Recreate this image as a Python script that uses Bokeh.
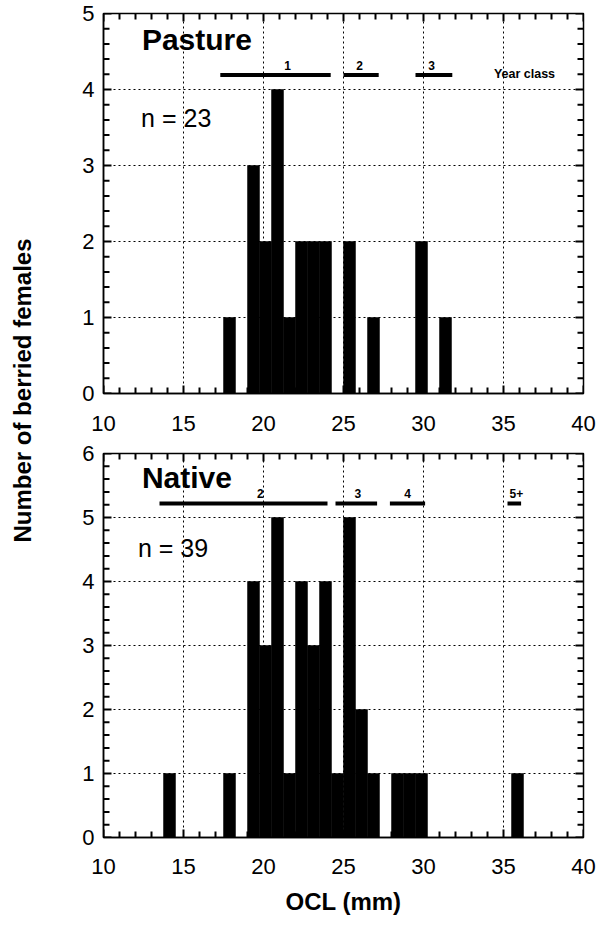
import numpy as np
from bokeh.plotting import figure
from bokeh.models import Range1d, FixedTicker
from bokeh.layouts import row, column
from bokeh.core.properties import value
from bokeh.embed import file_html
from bokeh.resources import INLINE

FONT = "Liberation Sans"
BIN_WIDTH = 0.75  # mm

# Pasture: lower edge of each occupied OCL bin (mm) and number of berried females
pasture_bin_start = [17.5, 19.0, 19.75, 20.5, 21.25, 22.0, 22.75, 23.5, 25.0, 26.5, 29.5, 31.0]
pasture_counts = [1, 3, 2, 4, 1, 2, 2, 2, 2, 1, 2, 1]

# Native: lower edge of each occupied OCL bin (mm) and number of berried females
native_bin_start = [13.75, 17.5, 19.0, 19.75, 20.5, 21.25, 22.0, 22.75, 23.5, 24.25,
                    25.0, 25.75, 26.5, 28.0, 28.75, 29.5, 35.5]
native_counts = [1, 1, 4, 3, 5, 1, 4, 3, 4, 1, 5, 2, 1, 1, 1, 1, 1]

# Year-class size ranges (mm)
pasture_year_class = ["1", "2", "3"]
pasture_class_from = [17.3, 25.0, 29.5]
pasture_class_to = [24.2, 27.2, 31.8]
pasture_class_label_x = [21.5, 26.0, 30.5]

native_year_class = ["2", "3", "4", "5+"]
native_class_from = [13.5, 24.5, 27.9, 35.25]
native_class_to = [24.0, 27.1, 30.1, 36.1]
native_class_label_x = [19.8, 25.9, 29.0, 35.8]

x_ticks = [10, 15, 20, 25, 30, 35, 40]
x_minor = list(range(10, 41))

FIG_W, BORDER_L, BORDER_R = 560, 58, 22


def style_axis(axis):
    axis.axis_line_width = 1.5
    axis.axis_line_color = "black"
    axis.major_tick_in = 0
    axis.major_tick_out = 0
    axis.minor_tick_in = 0
    axis.minor_tick_out = 0
    axis.major_label_text_font = FONT
    axis.major_label_text_font_size = "22px"
    axis.major_label_text_color = "black"


def make_panel(bin_start, counts, ymax, height, border_top, border_bottom, x_standoff,
               name, n_text, name_y, n_y, n_x,
               classes, c_from, c_to, c_label_x, class_y, show_xlabel):
    p = figure(width=FIG_W, height=height, output_backend="svg", toolbar_location=None,
               x_range=Range1d(10, 40), y_range=Range1d(0, ymax),
               min_border_left=BORDER_L, min_border_right=BORDER_R,
               min_border_top=border_top, min_border_bottom=border_bottom)
    p.outline_line_color = "black"
    p.outline_line_width = 1.5
    p.background_fill_color = "white"
    p.border_fill_color = "white"

    y_ticks = list(range(0, ymax + 1))
    y_minor = [round(v, 1) for v in np.arange(0, ymax + 0.01, 0.2)]
    xt = FixedTicker(ticks=x_ticks, minor_ticks=x_minor)
    yt = FixedTicker(ticks=y_ticks, minor_ticks=y_minor)
    p.xaxis.ticker = xt
    p.yaxis.ticker = yt
    p.xgrid.ticker = xt
    p.ygrid.ticker = yt
    for g in (p.xgrid, p.ygrid):
        g.grid_line_color = "black"
        g.grid_line_dash = "2 3"
        g.grid_line_width = 1

    style_axis(p.below[0])
    style_axis(p.left[0])
    p.below[0].major_label_standoff = x_standoff
    p.left[0].major_label_standoff = 9

    if show_xlabel:
        ax = p.below[0]
        ax.axis_label = "OCL (mm)"
        ax.axis_label_text_font = FONT
        ax.axis_label_text_font_style = "bold"
        ax.axis_label_text_font_size = "24px"
        ax.axis_label_text_color = "black"
        ax.axis_label_standoff = 11

    centers = [s + BIN_WIDTH / 2 for s in bin_start]
    p.vbar(x=centers, top=counts, bottom=0, width=BIN_WIDTH,
           fill_color="black", line_color="black", line_width=0.5)

    # inward tick marks on all four edges (tick lengths given in pixels)
    dx = 30 / (FIG_W - BORDER_L - BORDER_R)            # data units per pixel along x
    dy = ymax / (height - border_top - border_bottom)  # data units per pixel along y
    x_min_only = [v for v in x_minor if v not in x_ticks]
    y_min_only = [v for v in y_minor if v not in y_ticks]
    for xs, n_px in ((x_min_only, 6), (x_ticks, 8)):
        k = len(xs)
        p.segment(x0=xs, x1=xs, y0=[0] * k, y1=[n_px * dy] * k,
                  line_color="black", line_width=2)
        p.segment(x0=xs, x1=xs, y0=[ymax] * k, y1=[ymax - n_px * dy] * k,
                  line_color="black", line_width=2)
    for ys, n_px in ((y_min_only, 6), (y_ticks, 8)):
        k = len(ys)
        p.segment(x0=[10] * k, x1=[10 + n_px * dx] * k, y0=ys, y1=ys,
                  line_color="black", line_width=2)
        p.segment(x0=[40] * k, x1=[40 - n_px * dx] * k, y0=ys, y1=ys,
                  line_color="black", line_width=2)

    # year-class size ranges
    p.segment(x0=c_from, y0=[class_y] * len(classes), x1=c_to, y1=[class_y] * len(classes),
              line_color="black", line_width=4)
    p.text(x=c_label_x, y=[class_y] * len(classes), text=classes,
           text_font=value(FONT), text_font_style="bold", text_font_size="12px",
           text_align="center", text_baseline="bottom", y_offset=-5, text_color="black")

    p.text(x=[12.4], y=[name_y], text=[name], text_font=value(FONT),
           text_font_style="bold", text_font_size="30px", text_baseline="middle",
           text_color="black")
    p.text(x=[n_x], y=[n_y], text=[n_text], text_font=value(FONT),
           text_font_size="25px", text_baseline="middle", text_color="black")
    return p


p1 = make_panel(pasture_bin_start, pasture_counts, 5, 441, 13, 48, 22,
                "Pasture", "n = 23", 4.66, 3.62, 12.35,
                pasture_year_class, pasture_class_from, pasture_class_to,
                pasture_class_label_x, 4.19, False)
p1.text(x=[34.4], y=[4.2], text=["Year class"], text_font=value(FONT),
        text_font_style="bold", text_font_size="12.5px", text_baseline="middle",
        text_color="black")

p2 = make_panel(native_bin_start, native_counts, 6, 490, 12, 94, 21,
                "Native", "n = 39", 5.62, 4.53, 12.15,
                native_year_class, native_class_from, native_class_to,
                native_class_label_x, 5.22, True)

# shared y-axis title spanning both panels
lab = figure(width=45, height=931, output_backend="svg", toolbar_location=None,
             x_range=Range1d(0, 45), y_range=Range1d(931, 0),
             min_border=0, min_border_left=0, min_border_right=0,
             min_border_top=0, min_border_bottom=0)
lab.axis.visible = False
lab.grid.visible = False
lab.outline_line_color = None
lab.text(x=[22], y=[390], text=["Number of berried females"], angle=np.pi / 2,
         text_font=value(FONT), text_font_style="bold", text_font_size="24px",
         text_align="center", text_baseline="middle", text_color="black")

layout = row(lab, column(p1, p2, spacing=0), spacing=0)
open("out.html", "w").write(file_html(layout, INLINE))
